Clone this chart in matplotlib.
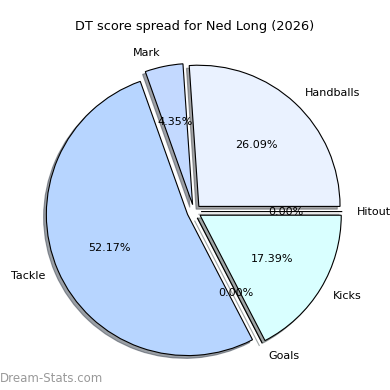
import matplotlib.pyplot as plt

# DT score spread (percent of 23)
labels = ["Handballs", "Mark", "Tackle", "Goals", "Kicks", "Hitout"]
values = [6, 1, 12, 0, 4, 0]
colors = ["#eaf2ff", "#c3d9ff", "#b7d5ff", "#d9ffff", "#d9ffff", "#eaf2ff"]
explode = [0.05] * len(values)

fig = plt.figure(figsize=(3.9, 3.9), dpi=100)
ax = fig.add_axes([0.045, 0.005, 0.905, 0.905])
ax.pie(values, labels=labels, colors=colors, explode=explode, autopct="%1.2f%%",
       startangle=0, shadow={"ox": -0.014, "oy": -0.014},
       wedgeprops={"edgecolor": "black", "linewidth": 0.8},
       textprops={"fontsize": 8})
ax.set_aspect("equal")
fig.text(0.5, 0.922, "DT score spread for Ned Long (2026)", ha="center", fontsize=9.3)
fig.text(0.0, 0.02, "Dream-Stats.com", color="grey", fontsize=8.5, alpha=0.8)
fig.savefig("out.png", dpi=100)
